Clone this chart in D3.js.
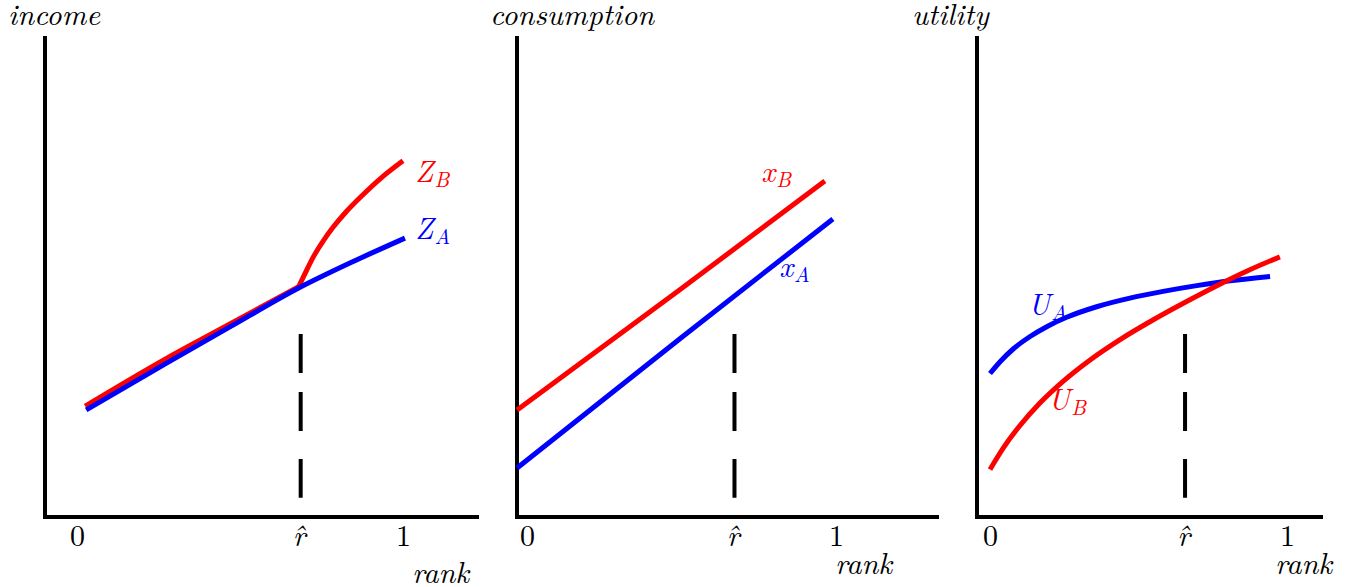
<!DOCTYPE html>
<html>
<head>
<meta charset="utf-8">
<script src="https://cdn.jsdelivr.net/npm/d3@7"></script>
<style>
  html, body { margin: 0; padding: 0; background: #fff; }
  svg { display: block; }
</style>
</head>
<body>
<svg id="chart" width="1354" height="587"></svg>
<script>
const FONT = '"Latin Modern Roman", "Liberation Serif", serif';

// tick labels under each rank axis
const tickLabels = ["0", "r\u0302", "1"];
// r-hat position (rank) in each panel
const rHats = [0.68, 0.665, 0.65];

// income panel
const incomeRankA = [0.028, 0.276, 0.469, 0.68, 0.837, 1.006];
const incomeA = [22.3, 32.1, 39.6, 47.7, 52.9, 58.1];
const incomeRankB = [0.025, 0.276, 0.469, 0.68, 0.70, 0.725, 0.756, 0.786, 0.827, 0.878, 0.929, 1.0];
const incomeB = [23.1, 33.1, 40.2, 48.0, 50.8, 54.2, 57.6, 60.4, 63.7, 67.2, 70.4, 74.2];

// consumption panel
const consRankA = [-0.032, 0.5, 0.99];
const consA = [10.2, 37.4, 62.1];
const consRankB = [-0.032, 0.5, 0.964];
const consB = [22.3, 47.6, 70.0];

// utility panel
const utilRankA = [0, 0.034, 0.079, 0.135, 0.191, 0.258, 0.359, 0.471, 0.583, 0.696, 0.808, 0.943];
const utilA = [29.9, 32.35, 35.05, 37.6, 39.65, 41.6, 43.8, 45.6, 47.0, 48.2, 49.2, 50.1];
const utilRankB = [0, 0.045, 0.101, 0.168, 0.247, 0.337, 0.438, 0.55, 0.662, 0.774, 0.864, 0.976];
const utilB = [9.9, 14.4, 19.05, 23.74, 28.32, 32.73, 36.97, 41.1, 44.9, 48.5, 51.2, 54.2];

const RED = "#ff0000";
const BLUE = "#0000ff";

const panels = [
  {
    title: "income", titleX: 8,
    axisX: 45, zeroX: 77, oneX: 403, axisEnd: 479, rankX: 412, rankY: 583,
    rHat: rHats[0], kinkB: true,
    series: [
      { rank: incomeRankB, values: incomeB, color: RED, name: "Z", sub: "B", at: [1.037, 69.8] },
      { rank: incomeRankA, values: incomeA, color: BLUE, name: "Z", sub: "A", at: [1.037, 57.9] },
    ],
  },
  {
    title: "consumption", titleX: 490,
    axisX: 517, zeroX: 527, oneX: 836, axisEnd: 939, rankX: 835, rankY: 574,
    rHat: rHats[1],
    series: [
      { rank: consRankB, values: consB, color: RED, name: "x", sub: "B", at: [0.758, 69.8] },
      { rank: consRankA, values: consA, color: BLUE, name: "x", sub: "A", at: [0.816, 50.0] },
    ],
  },
  {
    title: "utility", titleX: 912,
    axisX: 977, zeroX: 990, oneX: 1287, axisEnd: 1323, rankX: 1275, rankY: 574,
    rHat: rHats[2],
    series: [
      { rank: utilRankA, values: utilA, color: BLUE, name: "U", sub: "A", at: [0.128, 42.1] },
      { rank: utilRankB, values: utilB, color: RED, name: "U", sub: "B", at: [0.195, 22.3] },
    ],
  },
];

const svg = d3.select("#chart");

const y = d3.scaleLinear().domain([0, 100]).range([517, 37]);

const line = (x) =>
  d3
    .line()
    .x((d) => x(d[0]))
    .y((d) => y(d[1]))
    .curve(d3.curveMonotoneX);

const italic = (sel, size) =>
  sel
    .style("font-family", FONT)
    .style("font-style", "italic")
    .style("font-size", `${size}px`);

panels.forEach((p) => {
  const x = d3.scaleLinear().domain([0, 1]).range([p.zeroX, p.oneX]);
  const g = svg.append("g");

  // axes as plain lines
  g.append("line")
    .attr("x1", p.axisX).attr("x2", p.axisX)
    .attr("y1", y(100) - 1).attr("y2", y(0) + 2)
    .attr("stroke", "#000").attr("stroke-width", 4);
  g.append("line")
    .attr("x1", p.axisX - 2).attr("x2", p.axisEnd)
    .attr("y1", y(0)).attr("y2", y(0))
    .attr("stroke", "#000").attr("stroke-width", 4);

  // tick labels via axisBottom, no tick marks or domain
  const axis = g.append("g")
    .attr("transform", `translate(0,${y(0)})`)
    .call(
      d3.axisBottom(x)
        .tickValues([0, p.rHat, 1])
        .tickSize(0)
        .tickFormat((d, i) => tickLabels[i])
    );
  axis.select(".domain").remove();
  axis.selectAll("text")
    .attr("y", 29)
    .attr("dy", null)
    .attr("fill", "#000")
    .style("font-family", FONT)
    .style("font-size", "30px")
    .style("font-style", (d, i) => (i === 1 ? "italic" : "normal"));

  // dashed r-hat marker
  g.append("line")
    .attr("x1", x(p.rHat) + 2).attr("x2", x(p.rHat) + 2)
    .attr("y1", y(38.1)).attr("y2", y(4.0))
    .attr("stroke", "#000").attr("stroke-width", 4)
    .attr("stroke-dasharray", "39 19 39 28 39");

  // curves
  p.series.forEach((s) => {
    const pts = s.rank.map((r, i) => [r, s.values[i]]);
    const parts = p.kinkB && s.sub === "B"
      ? [pts.filter((d) => d[0] <= p.rHat), pts.filter((d) => d[0] >= p.rHat)]
      : [pts];
    parts.forEach((part) => {
      g.append("path")
        .datum(part)
        .attr("d", line(x))
        .attr("fill", "none")
        .attr("stroke", s.color)
        .attr("stroke-width", 5);
    });

    const label = g.append("text")
      .attr("x", x(s.at[0]))
      .attr("y", y(s.at[1]))
      .style("fill", s.color)
      .call(italic, 30);
    label.append("tspan").text(s.name);
    label.append("tspan")
      .attr("dx", 1)
      .attr("dy", 5)
      .style("font-size", "21px")
      .text(s.sub);
  });

  // axis titles
  g.append("text")
    .attr("x", p.titleX).attr("y", 25)
    .call(italic, 30)
    .text(p.title);
  g.append("text")
    .attr("x", p.rankX).attr("y", p.rankY)
    .call(italic, 30)
    .text("rank");
});
</script>
</body>
</html>
